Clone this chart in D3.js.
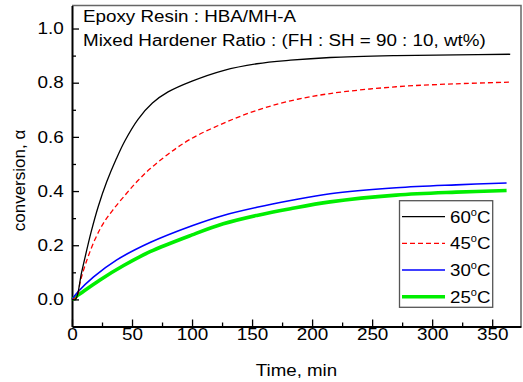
<!DOCTYPE html>
<html>
<head>
<meta charset="utf-8">
<script src="https://cdn.jsdelivr.net/npm/d3@7"></script>
<style>
  body { margin: 0; background: #fff; }
  text { font-family: "Liberation Sans", Arial, sans-serif; fill: #000; }
</style>
</head>
<body>
<svg id="chart" width="523" height="382"></svg>
<script>
// values
const t60 = [0, 3, 8, 16, 22, 29, 37, 44, 55, 67, 80, 100, 126, 154, 182, 215, 270, 320, 365];
const a60 = [0, 0, 0.1, 0.25, 0.345, 0.435, 0.52, 0.585, 0.665, 0.725, 0.766, 0.806, 0.845, 0.87, 0.883, 0.893, 0.9, 0.903, 0.905];
const t45 = [0, 4, 7, 12, 19, 26, 34, 45, 55, 65, 80, 98, 126, 154, 182, 215, 270, 320, 364];
const a45 = [0, 0.01, 0.068, 0.14, 0.22, 0.28, 0.33, 0.389, 0.439, 0.482, 0.536, 0.59, 0.65, 0.698, 0.733, 0.76, 0.785, 0.796, 0.802];
const t30 = [0, 5, 18, 37, 65, 100, 126, 154, 182, 215, 270, 320, 362];
const a30 = [0, 0.028, 0.083, 0.145, 0.21, 0.272, 0.31, 0.34, 0.365, 0.39, 0.412, 0.423, 0.43];
const t25 = [0, 7, 23, 43, 65, 100, 126, 154, 182, 215, 270, 320, 362];
const a25 = [0, 0.022, 0.071, 0.125, 0.176, 0.238, 0.279, 0.31, 0.335, 0.36, 0.385, 0.396, 0.402];

const seriesNames = ['60', '45', '30', '25'];
const xTicks = [0, 50, 100, 150, 200, 250, 300, 350];
const xMinor = [25, 75, 125, 175, 225, 275, 325];
const yTicks = [0, 0.2, 0.4, 0.6, 0.8, 1.0];
const yMinor = [0.1, 0.3, 0.5, 0.7, 0.9];
const noteLines = ['Epoxy Resin : HBA/MH-A', 'Mixed Hardener Ratio : (FH : SH = 90 : 10, wt%)'];

const L = 72, R = 521, T = 5.5, B = 326.5;

const svg = d3.select('#chart');

const x = d3.scaleLinear().domain([0, 374]).range([L, R]);
const y = d3.scaleLinear().domain([-0.1, 1.085]).range([B, T]);

/******** frame (top/right grey) ********/
svg.append('path')
  .attr('d', `M${L},${T}H${R}V${B}`)
  .attr('fill', 'none')
  .attr('stroke', '#666')
  .attr('stroke-width', 1.5);

/******** axes ********/
const xAxis = svg.append('g')
  .attr('transform', `translate(0,${B})`)
  .call(d3.axisBottom(x).tickValues(xTicks).tickSize(-7).tickSizeOuter(0).tickPadding(2)
    .tickFormat(d3.format('d')));
xAxis.append('g').call(d3.axisBottom(x).tickValues(xMinor).tickSize(-4).tickFormat(''))
  .select('.domain').remove();

const yAxis = svg.append('g')
  .attr('transform', `translate(${L},0)`)
  .call(d3.axisLeft(y).tickValues(yTicks).tickSize(-7).tickSizeOuter(0).tickPadding(7)
    .tickFormat(d3.format('.1f')));
yAxis.append('g').call(d3.axisLeft(y).tickValues(yMinor).tickSize(-4).tickFormat(''))
  .select('.domain').remove();

[xAxis, yAxis].forEach(ax => {
  ax.selectAll('.domain').attr('stroke', '#000').attr('stroke-width', 2);
  ax.selectAll('.tick line').attr('stroke', '#000').attr('stroke-width', 1.3);
  ax.selectAll('.tick text')
    .style('font-family', '"Liberation Sans", Arial, sans-serif')
    .style('font-size', '16px')
    .attr('fill', '#000')
    .attr('transform', 'scale(1.18,1)');
});

/******** curves ********/
const styles = {
  '60': { color: '#000', width: 1.3, dash: null },
  '45': { color: '#ff0000', width: 1.3, dash: '5,3' },
  '30': { color: '#0000ff', width: 1.6, dash: null },
  '25': { color: '#00ee00', width: 3.6, dash: null }
};
const series = [
  { name: '60', t: t60, a: a60 },
  { name: '45', t: t45, a: a45 },
  { name: '30', t: t30, a: a30 },
  { name: '25', t: t25, a: a25 }
];

const line = d3.line()
  .x(d => x(d[0]))
  .y(d => y(d[1]))
  .curve(d3.curveCatmullRom.alpha(0.5));

// back to front so the thick green sits on top like the original
series.slice().reverse().forEach(s => {
  const st = styles[s.name];
  svg.append('path')
    .datum(s.t.map((v, i) => [v, s.a[i]]))
    .attr('d', line)
    .attr('fill', 'none')
    .attr('stroke', st.color)
    .attr('stroke-width', st.width)
    .attr('stroke-dasharray', st.dash);
});

/******** axis titles ********/
svg.append('text')
  .attr('transform', `translate(${(L + R) / 2},376) scale(1.1,1)`)
  .attr('text-anchor', 'middle')
  .style('font-size', '17px')
  .text('Time, min');

svg.append('text')
  .attr('transform', 'translate(25,180.5) rotate(-90)')
  .attr('text-anchor', 'middle')
  .style('font-size', '17px')
  .text('conversion, α');

/******** note ********/
noteLines.forEach((s, i) => {
  svg.append('text')
    .attr('transform', `translate(83,${22.3 + i * 23.4}) scale(1.19,1)`)
    .style('font-size', '15.8px')
    .text(s);
});

/******** legend ********/
const lg = svg.append('g');
lg.append('rect')
  .attr('x', 399.5).attr('y', 200.7)
  .attr('width', 93.2).attr('height', 106.6)
  .attr('fill', '#fff')
  .attr('stroke', '#555')
  .attr('stroke-width', 1.3);

seriesNames.forEach((n, i) => {
  const st = styles[n];
  const ly = 216.7 + i * 26.67;
  lg.append('line')
    .attr('x1', 402).attr('x2', 445)
    .attr('y1', ly).attr('y2', ly)
    .attr('stroke', st.color)
    .attr('stroke-width', st.width)
    .attr('stroke-dasharray', st.dash);
  const tx = lg.append('text')
    .attr('transform', `translate(450,${ly + 6}) scale(1.1,1)`)
    .style('font-size', '17px');
  tx.append('tspan').text(n);
  tx.append('tspan').attr('dy', -7).style('font-size', '10px').text('o');
  tx.append('tspan').attr('dy', 7).text('C');
});
</script>
</body>
</html>
